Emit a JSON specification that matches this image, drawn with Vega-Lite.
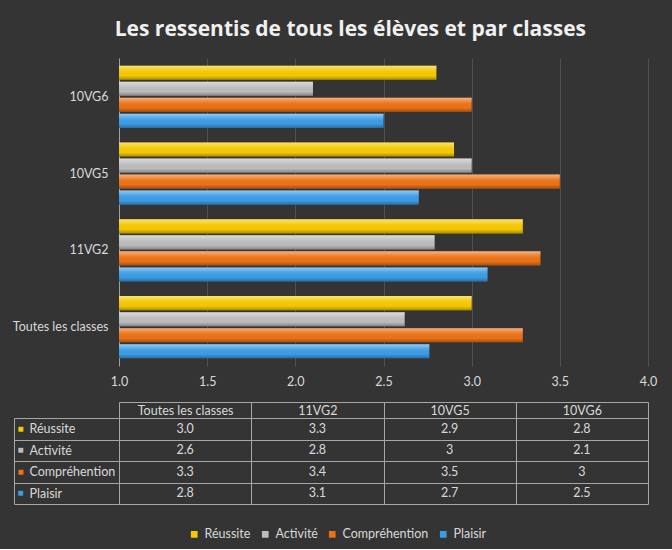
{
  "$schema": "https://vega.github.io/schema/vega-lite/v6.json",
  "background": "#343434",
  "padding": {"left": 10, "top": 19, "right": 24, "bottom": 8},
  "title": {"text": "Les ressentis de tous les élèves et par classes", "color": "#f0f0f0", "font": "Open Sans", "fontSize": 21, "fontWeight": "bold", "anchor": "middle", "offset": 18, "dx": 17},
  "data": {"values": [
    {"classe": "Toutes les classes", "serie": "Réussite", "valeur": 3.0, "label": "3.0"},
    {"classe": "Toutes les classes", "serie": "Activité", "valeur": 2.62, "label": "2.6"},
    {"classe": "Toutes les classes", "serie": "Compréhention", "valeur": 3.29, "label": "3.3"},
    {"classe": "Toutes les classes", "serie": "Plaisir", "valeur": 2.76, "label": "2.8"},
    {"classe": "11VG2", "serie": "Réussite", "valeur": 3.29, "label": "3.3"},
    {"classe": "11VG2", "serie": "Activité", "valeur": 2.79, "label": "2.8"},
    {"classe": "11VG2", "serie": "Compréhention", "valeur": 3.39, "label": "3.4"},
    {"classe": "11VG2", "serie": "Plaisir", "valeur": 3.09, "label": "3.1"},
    {"classe": "10VG5", "serie": "Réussite", "valeur": 2.9, "label": "2.9"},
    {"classe": "10VG5", "serie": "Activité", "valeur": 3.0, "label": "3"},
    {"classe": "10VG5", "serie": "Compréhention", "valeur": 3.5, "label": "3.5"},
    {"classe": "10VG5", "serie": "Plaisir", "valeur": 2.7, "label": "2.7"},
    {"classe": "10VG6", "serie": "Réussite", "valeur": 2.8, "label": "2.8"},
    {"classe": "10VG6", "serie": "Activité", "valeur": 2.1, "label": "2.1"},
    {"classe": "10VG6", "serie": "Compréhention", "valeur": 3.0, "label": "3"},
    {"classe": "10VG6", "serie": "Plaisir", "valeur": 2.5, "label": "2.5"}
  ]},
  "spacing": 13,
  "vconcat": [
    {
      "width": 529,
      "height": 308,
      "encoding": {
        "y": {"field": "classe", "type": "nominal", "sort": ["10VG6", "10VG5", "11VG2", "Toutes les classes"],
          "scale": {"paddingInner": 0.19, "paddingOuter": 0.1},
          "axis": {"title": null, "ticks": false, "domain": true, "domainColor": "#a0a0a0", "labelPadding": 11, "labelColor": "#d9d9d9", "labelFontSize": 12.5, "labelFont": "Lato", "minExtent": 109, "maxExtent": 109}},
        "yOffset": {"field": "serie", "type": "nominal", "sort": ["Réussite", "Activité", "Compréhention", "Plaisir"], "scale": {"paddingInner": 0.12}},
        "x": {"field": "valeur", "type": "quantitative", "scale": {"domain": [1, 4], "zero": false, "nice": false},
          "axis": {"title": null, "values": [1, 1.5, 2, 2.5, 3, 3.5, 4], "format": ".1f", "domain": false, "ticks": false, "grid": true, "gridColor": "#505050", "labelPadding": 9, "labelColor": "#d9d9d9", "labelFontSize": 12.5, "labelFont": "Lato", "labelFlush": false}},
        "x2": {"datum": 1}
      },
      "layer": [
        {"mark": {"type": "bar"},
         "encoding": {"color": {"field": "serie", "type": "nominal",
            "scale": {"domain": ["Réussite", "Activité", "Compréhention", "Plaisir"], "range": ["#F5C900", "#BDBDBD", "#EC7216", "#3C9DE6"]},
            "legend": {"title": null, "orient": "none", "legendX": 69, "legendY": 470, "direction": "horizontal", "symbolType": "square", "symbolSize": 45, "symbolStrokeWidth": 0, "labelColor": "#d9d9d9", "labelFontSize": 12.5, "labelFont": "Lato", "columnPadding": 8, "labelOffset": 4}}}},
        {"mark": {"type": "bar", "color": {"gradient": "linear", "x1": 0, "y1": 0, "x2": 0, "y2": 1, "stops": [
            {"offset": 0, "color": "rgba(255,255,255,0.45)"},
            {"offset": 0.35, "color": "rgba(255,255,255,0.08)"},
            {"offset": 0.7, "color": "rgba(0,0,0,0)"},
            {"offset": 1, "color": "rgba(0,0,0,0.3)"}]}}}
      ]
    },
    {
      "width": 529,
      "height": 86,
      "layer": [
        {"mark": {"type": "text", "color": "#d9d9d9", "fontSize": 12.5, "font": "Lato"},
         "encoding": {
           "x": {"field": "classe", "type": "nominal", "sort": ["Toutes les classes", "11VG2", "10VG5", "10VG6"], "scale": {"paddingInner": 0, "paddingOuter": 0},
             "axis": {"orient": "top", "title": null, "offset": 16, "tickBand": "extent", "tickSize": -16, "labelPadding": 8, "labelBaseline": "middle", "labelAngle": 0, "grid": true, "gridColor": "#a6a6a6", "domainColor": "#a6a6a6", "tickColor": "#a6a6a6", "labelColor": "#d9d9d9", "labelFontSize": 12.5, "labelFont": "Lato"}},
           "y": {"field": "serie", "type": "nominal", "sort": ["Réussite", "Activité", "Compréhention", "Plaisir"], "scale": {"paddingInner": 0, "paddingOuter": 0},
             "axis": {"orient": "left", "title": null, "offset": 105, "tickBand": "extent", "tickSize": -105, "labelAlign": "left", "labelPadding": 90, "grid": true, "gridColor": "#a6a6a6", "domainColor": "#a6a6a6", "tickColor": "#a6a6a6", "labelColor": "#d9d9d9", "labelFontSize": 12.5, "labelFont": "Lato"}},
           "text": {"field": "label"}
         }},
        {"mark": {"type": "text", "text": ""},
         "encoding": {
           "y": {"field": "serie", "type": "nominal", "sort": ["Réussite", "Activité", "Compréhention", "Plaisir"],
             "axis": {"orient": "left", "title": null, "offset": 105, "domain": false, "ticks": false, "grid": false, "labelAlign": "left", "labelPadding": -3, "labelExpr": "'■'", "labelFontSize": 10,
               "labelColor": {"condition": [
                 {"test": "datum.value === 'Réussite'", "value": "#F5C900"},
                 {"test": "datum.value === 'Activité'", "value": "#BDBDBD"},
                 {"test": "datum.value === 'Compréhention'", "value": "#EC7216"}], "value": "#3C9DE6"}}}
         }}
      ],
      "resolve": {"axis": {"y": "independent"}}
    }
  ],
  "config": {"view": {"stroke": null}, "font": "Lato"}
}
